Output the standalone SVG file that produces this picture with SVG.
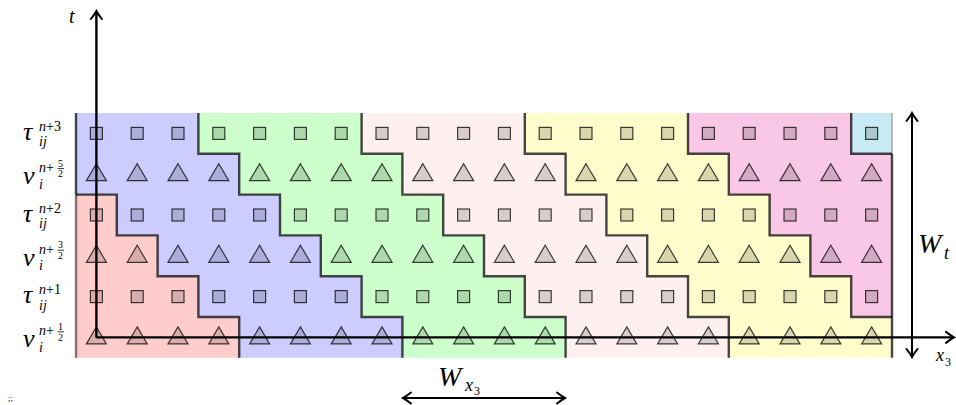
<svg xmlns="http://www.w3.org/2000/svg" width="956" height="405" viewBox="0 0 956 405">
<style>
.reg{stroke:none}
.bd{fill:none;stroke:#000;stroke-opacity:0.72;stroke-width:2.4;stroke-linejoin:miter}
.mk{fill:#000;fill-opacity:0.15;stroke:#000;stroke-opacity:0.75;stroke-width:1.2}
.ax{fill:none;stroke:#000;stroke-width:2.4}
.dim{fill:none;stroke:#000;stroke-width:2}
text{font-family:'Liberation Serif','Times New Roman',serif;fill:#000}
.it{font-style:italic}
.rm{font-style:normal}
</style>
<defs>
<marker id="arr" viewBox="-10 -7 12 14" refX="0" refY="0" markerWidth="12" markerHeight="14" orient="auto-start-reverse" markerUnits="userSpaceOnUse">
<path d="M-8,-5.5 Q-3,-1.6 0,0 Q-3,1.6 -8,5.5" fill="none" stroke="#000" stroke-width="2" stroke-linecap="round"/>
</marker>
<rect id="sq" x="-6" y="-6" width="12" height="12"/>
<path id="tri" d="M0,-10.5 L10,6.5 L-10,6.5 Z"/>
</defs>

<g id="regions">
<path id="region-red" class="reg" fill="#ffcccc" d="M76,194.6 H116.8 V235.4 H157.6 V276.2 H198.4 V317 H239.2 V357.8 H76 Z"/>
<path id="region-blue" class="reg" fill="#ccccff" d="M76,113 H198.4 V153.8 H239.2 V194.6 H280 V235.4 H320.8 V276.2 H361.6 V317 H402.4 V357.8 H239.2 V317 H198.4 V276.2 H157.6 V235.4 H116.8 V194.6 H76 Z"/>
<path id="region-green" class="reg" fill="#ccffcc" d="M198.4,113 H361.6 V153.8 H402.4 V194.6 H443.2 V235.4 H484 V276.2 H524.8 V317 H565.6 V357.8 H402.4 V317 H361.6 V276.2 H320.8 V235.4 H280 V194.6 H239.2 V153.8 H198.4 Z"/>
<path id="region-pink" class="reg" fill="#fff0f0" d="M361.6,113 H524.8 V153.8 H565.6 V194.6 H606.4 V235.4 H647.2 V276.2 H688 V317 H728.8 V357.8 H565.6 V317 H524.8 V276.2 H484 V235.4 H443.2 V194.6 H402.4 V153.8 H361.6 Z"/>
<path id="region-yellow" class="reg" fill="#fffccc" d="M524.8,113 H688 V153.8 H728.8 V194.6 H769.6 V235.4 H810.4 V276.2 H851.2 V317 H892 V357.8 H728.8 V317 H688 V276.2 H647.2 V235.4 H606.4 V194.6 H565.6 V153.8 H524.8 Z"/>
<path id="region-magenta" class="reg" fill="#f8c8e6" d="M688,113 H851.2 V153.8 H892 V317 H851.2 V276.2 H810.4 V235.4 H769.6 V194.6 H728.8 V153.8 H688 Z"/>
<path id="region-cyan" class="reg" fill="#c8eaf4" d="M851.2,113 H892 V153.8 H851.2 Z"/>
</g>

<g id="boundaries">
<path class="bd" d="M239.2,357.8 V317 H198.4 V276.2 H157.6 V235.4 H116.8 V194.6 H76"/>
<path class="bd" d="M402.4,357.8 V317 H361.6 V276.2 H320.8 V235.4 H280 V194.6 H239.2 V153.8 H198.4 V113"/>
<path class="bd" d="M565.6,357.8 V317 H524.8 V276.2 H484 V235.4 H443.2 V194.6 H402.4 V153.8 H361.6 V113"/>
<path class="bd" d="M728.8,357.8 V317 H688 V276.2 H647.2 V235.4 H606.4 V194.6 H565.6 V153.8 H524.8 V113"/>
<path class="bd" d="M892,317 H851.2 V276.2 H810.4 V235.4 H769.6 V194.6 H728.8 V153.8 H688 V113"/>
<path class="bd" d="M851.2,113 V153.8 H892"/>
<path class="bd" d="M76,113 V194.6"/>
<path class="bd" style="stroke-opacity:0.5" d="M76,194.6 V357.8"/>
<path class="bd" d="M892,153.8 V357.8"/>
<path class="bd" style="stroke-opacity:0.3;stroke-width:1.5" d="M892,113 V153.8"/>
</g>

<g id="axes">
<path class="ax" d="M96.4,337.4 V11" marker-end="url(#arr)"/>
<path class="ax" d="M96.4,337.4 H954" marker-end="url(#arr)"/>
<text class="it" x="69" y="23" font-size="20">t</text>
<text class="it" x="936" y="361" font-size="18">x</text>
<text class="rm" x="945" y="366" font-size="12">3</text>
</g>

<g id="markers" class="mk">
<use href="#sq" x="96.4" y="133.4"/><use href="#sq" x="137.2" y="133.4"/><use href="#sq" x="178" y="133.4"/><use href="#sq" x="218.8" y="133.4"/><use href="#sq" x="259.6" y="133.4"/><use href="#sq" x="300.4" y="133.4"/><use href="#sq" x="341.2" y="133.4"/><use href="#sq" x="382" y="133.4"/><use href="#sq" x="422.8" y="133.4"/><use href="#sq" x="463.6" y="133.4"/><use href="#sq" x="504.4" y="133.4"/><use href="#sq" x="545.2" y="133.4"/><use href="#sq" x="586" y="133.4"/><use href="#sq" x="626.8" y="133.4"/><use href="#sq" x="667.6" y="133.4"/><use href="#sq" x="708.4" y="133.4"/><use href="#sq" x="749.2" y="133.4"/><use href="#sq" x="790" y="133.4"/><use href="#sq" x="830.8" y="133.4"/><use href="#sq" x="871.6" y="133.4"/>
<use href="#tri" x="96.4" y="174.2"/><use href="#tri" x="137.2" y="174.2"/><use href="#tri" x="178" y="174.2"/><use href="#tri" x="218.8" y="174.2"/><use href="#tri" x="259.6" y="174.2"/><use href="#tri" x="300.4" y="174.2"/><use href="#tri" x="341.2" y="174.2"/><use href="#tri" x="382" y="174.2"/><use href="#tri" x="422.8" y="174.2"/><use href="#tri" x="463.6" y="174.2"/><use href="#tri" x="504.4" y="174.2"/><use href="#tri" x="545.2" y="174.2"/><use href="#tri" x="586" y="174.2"/><use href="#tri" x="626.8" y="174.2"/><use href="#tri" x="667.6" y="174.2"/><use href="#tri" x="708.4" y="174.2"/><use href="#tri" x="749.2" y="174.2"/><use href="#tri" x="790" y="174.2"/><use href="#tri" x="830.8" y="174.2"/><use href="#tri" x="871.6" y="174.2"/>
<use href="#sq" x="96.4" y="215"/><use href="#sq" x="137.2" y="215"/><use href="#sq" x="178" y="215"/><use href="#sq" x="218.8" y="215"/><use href="#sq" x="259.6" y="215"/><use href="#sq" x="300.4" y="215"/><use href="#sq" x="341.2" y="215"/><use href="#sq" x="382" y="215"/><use href="#sq" x="422.8" y="215"/><use href="#sq" x="463.6" y="215"/><use href="#sq" x="504.4" y="215"/><use href="#sq" x="545.2" y="215"/><use href="#sq" x="586" y="215"/><use href="#sq" x="626.8" y="215"/><use href="#sq" x="667.6" y="215"/><use href="#sq" x="708.4" y="215"/><use href="#sq" x="749.2" y="215"/><use href="#sq" x="790" y="215"/><use href="#sq" x="830.8" y="215"/><use href="#sq" x="871.6" y="215"/>
<use href="#tri" x="96.4" y="255.8"/><use href="#tri" x="137.2" y="255.8"/><use href="#tri" x="178" y="255.8"/><use href="#tri" x="218.8" y="255.8"/><use href="#tri" x="259.6" y="255.8"/><use href="#tri" x="300.4" y="255.8"/><use href="#tri" x="341.2" y="255.8"/><use href="#tri" x="382" y="255.8"/><use href="#tri" x="422.8" y="255.8"/><use href="#tri" x="463.6" y="255.8"/><use href="#tri" x="504.4" y="255.8"/><use href="#tri" x="545.2" y="255.8"/><use href="#tri" x="586" y="255.8"/><use href="#tri" x="626.8" y="255.8"/><use href="#tri" x="667.6" y="255.8"/><use href="#tri" x="708.4" y="255.8"/><use href="#tri" x="749.2" y="255.8"/><use href="#tri" x="790" y="255.8"/><use href="#tri" x="830.8" y="255.8"/><use href="#tri" x="871.6" y="255.8"/>
<use href="#sq" x="96.4" y="296.6"/><use href="#sq" x="137.2" y="296.6"/><use href="#sq" x="178" y="296.6"/><use href="#sq" x="218.8" y="296.6"/><use href="#sq" x="259.6" y="296.6"/><use href="#sq" x="300.4" y="296.6"/><use href="#sq" x="341.2" y="296.6"/><use href="#sq" x="382" y="296.6"/><use href="#sq" x="422.8" y="296.6"/><use href="#sq" x="463.6" y="296.6"/><use href="#sq" x="504.4" y="296.6"/><use href="#sq" x="545.2" y="296.6"/><use href="#sq" x="586" y="296.6"/><use href="#sq" x="626.8" y="296.6"/><use href="#sq" x="667.6" y="296.6"/><use href="#sq" x="708.4" y="296.6"/><use href="#sq" x="749.2" y="296.6"/><use href="#sq" x="790" y="296.6"/><use href="#sq" x="830.8" y="296.6"/><use href="#sq" x="871.6" y="296.6"/>
<use href="#tri" x="96.4" y="337.4"/><use href="#tri" x="137.2" y="337.4"/><use href="#tri" x="178" y="337.4"/><use href="#tri" x="218.8" y="337.4"/><use href="#tri" x="259.6" y="337.4"/><use href="#tri" x="300.4" y="337.4"/><use href="#tri" x="341.2" y="337.4"/><use href="#tri" x="382" y="337.4"/><use href="#tri" x="422.8" y="337.4"/><use href="#tri" x="463.6" y="337.4"/><use href="#tri" x="504.4" y="337.4"/><use href="#tri" x="545.2" y="337.4"/><use href="#tri" x="586" y="337.4"/><use href="#tri" x="626.8" y="337.4"/><use href="#tri" x="667.6" y="337.4"/><use href="#tri" x="708.4" y="337.4"/><use href="#tri" x="749.2" y="337.4"/><use href="#tri" x="790" y="337.4"/><use href="#tri" x="830.8" y="337.4"/><use href="#tri" x="871.6" y="337.4"/>
</g>

<g id="row-labels">
<g id="label-tau3"><text class="it" x="23" y="140" font-size="26">τ</text><text class="it" x="39" y="130.9" font-size="14">n<tspan class="rm">+3</tspan></text><text class="it" x="39" y="146.4" font-size="14">ij</text></g>
<g id="label-v52"><text class="it" x="23" y="184.2" font-size="26">v</text><text class="it" x="39" y="172.2" font-size="14">n<tspan class="rm">+</tspan></text><text class="rm" x="58" y="166.5" font-size="10">5</text><path d="M57.5,168.6 H64" stroke="#000" stroke-width="0.8"/><text class="rm" x="58" y="177.4" font-size="10">2</text><text class="it" x="39" y="188.7" font-size="14">i</text></g>
<g id="label-tau2"><text class="it" x="23" y="221.6" font-size="26">τ</text><text class="it" x="39" y="212.5" font-size="14">n<tspan class="rm">+2</tspan></text><text class="it" x="39" y="228" font-size="14">ij</text></g>
<g id="label-v32"><text class="it" x="23" y="265.8" font-size="26">v</text><text class="it" x="39" y="253.8" font-size="14">n<tspan class="rm">+</tspan></text><text class="rm" x="58" y="248.1" font-size="10">3</text><path d="M57.5,250.2 H64" stroke="#000" stroke-width="0.8"/><text class="rm" x="58" y="259" font-size="10">2</text><text class="it" x="39" y="270.3" font-size="14">i</text></g>
<g id="label-tau1"><text class="it" x="23" y="303.2" font-size="26">τ</text><text class="it" x="39" y="294.1" font-size="14">n<tspan class="rm">+1</tspan></text><text class="it" x="39" y="309.6" font-size="14">ij</text></g>
<g id="label-v12"><text class="it" x="23" y="347.4" font-size="26">v</text><text class="it" x="39" y="335.4" font-size="14">n<tspan class="rm">+</tspan></text><text class="rm" x="58" y="329.7" font-size="10">1</text><path d="M57.5,331.8 H64" stroke="#000" stroke-width="0.8"/><text class="rm" x="58" y="340.6" font-size="10">2</text><text class="it" x="39" y="351.9" font-size="14">i</text></g>
</g>

<g id="dimension-Wt">
<path class="dim" d="M912,113 V357" marker-start="url(#arr)" marker-end="url(#arr)"/>
<text class="it" x="918" y="253" font-size="28">W</text><text class="it" x="944" y="259" font-size="18">t</text>
</g>
<g id="dimension-Wx3">
<path class="dim" d="M403,398 H565" marker-start="url(#arr)" marker-end="url(#arr)"/>
<text class="it" x="438" y="386" font-size="28">W</text><text class="it" x="465" y="391" font-size="18">x</text><text class="rm" x="474" y="395" font-size="12">3</text>
</g>
<text class="rm" x="8" y="401" font-size="9" fill="#555">;;</text>
</svg>
